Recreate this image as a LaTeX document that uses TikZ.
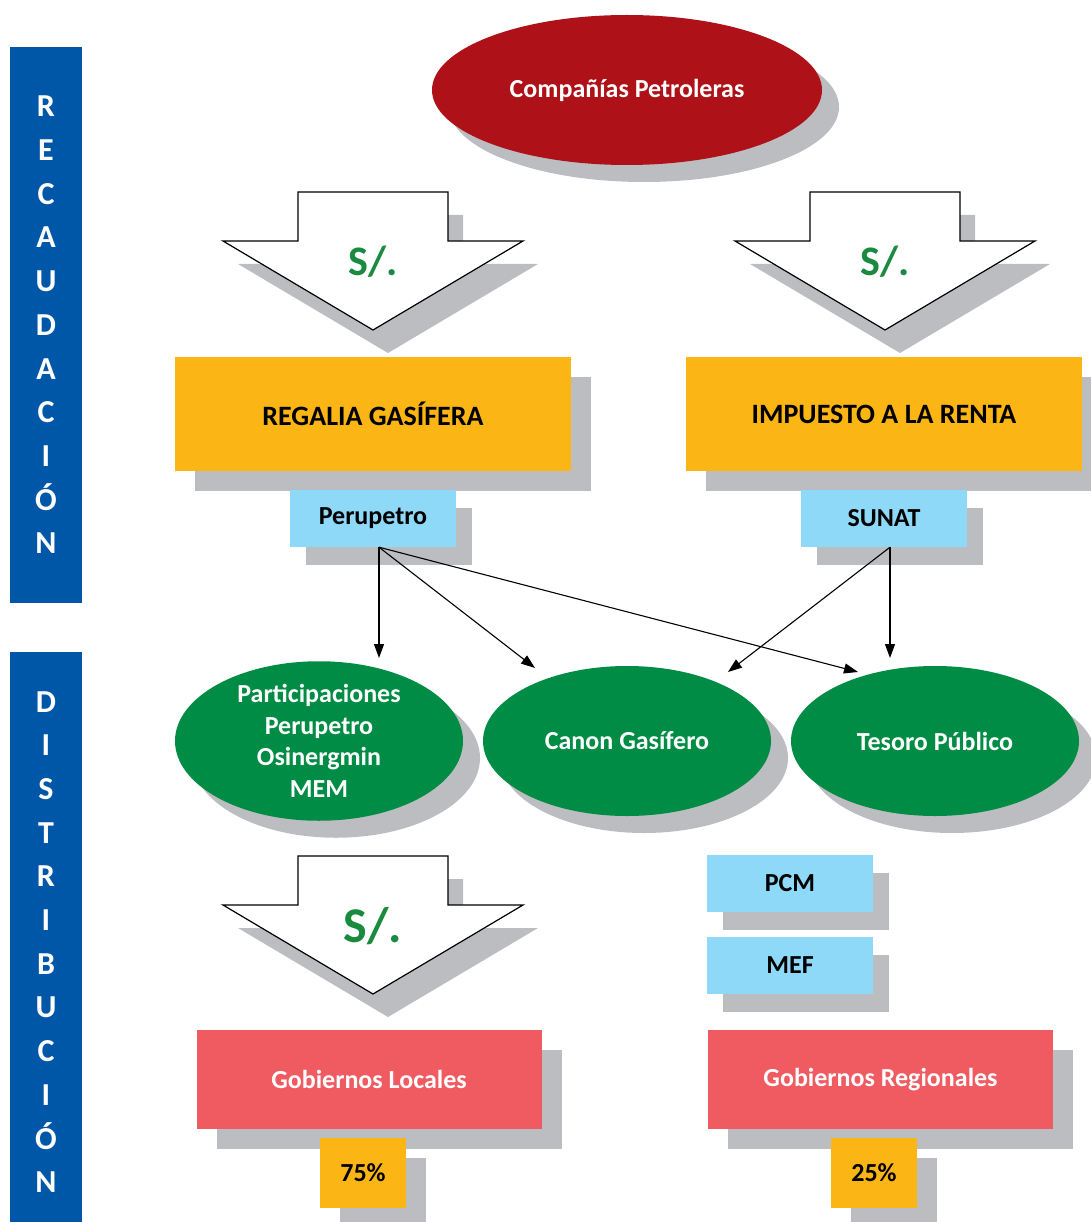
\documentclass[tikz,border=0pt]{standalone}
\usepackage{fontspec}
\setmainfont{Carlito}
\usetikzlibrary{shapes.geometric,shadows,arrows.meta}
\definecolor{barblue}{HTML}{0057A8}
\definecolor{oilred}{HTML}{AE1117}
\definecolor{boxyellow}{HTML}{FBB515}
\definecolor{skyblue}{HTML}{8ED8F8}
\definecolor{fundgreen}{HTML}{008C44}
\definecolor{govred}{HTML}{F05B62}
\definecolor{moneygreen}{HTML}{1A8A3F}
\definecolor{shadowgrey}{HTML}{BCBDC0}

\begin{document}
\begin{tikzpicture}[x=1pt, y=-1pt,
  txt/.style={font=\bfseries\fontsize{26}{31.5}\selectfont},
  bigshade/.style={drop shadow={shadow xshift=20pt, shadow yshift=-20pt, fill=shadowgrey, opacity=1}},
  smallshade/.style={drop shadow={shadow xshift=16pt, shadow yshift=-18pt, fill=shadowgrey, opacity=1}},
  bar/.style={fill=barblue, text=white, minimum width=72pt, inner sep=0pt, align=center,
    font=\bfseries\fontsize{32}{43.7}\selectfont},
  oval/.style={ellipse, txt, text=white, inner sep=0pt, align=center,
    drop shadow={shadow xshift=17pt, shadow yshift=-17pt, fill=shadowgrey, opacity=1}},
  head/.style={rectangle, bigshade, fill=boxyellow, minimum width=396pt, minimum height=114pt,
    font=\bfseries\fontsize{28}{33}\selectfont},
  agency/.style={rectangle, smallshade, fill=skyblue, minimum width=166pt, minimum height=57pt, txt},
  gov/.style={rectangle, bigshade, fill=govred, text=white, minimum width=345pt, minimum height=99pt, txt},
  share/.style={rectangle, bigshade, fill=boxyellow, minimum width=86pt, minimum height=70pt, txt},
  flow/.style={-{Triangle[length=14pt,width=10pt]}, line width=1.1pt}
]
  \useasboundingbox (0,0) rectangle (1090,1222);

  \node[bar, minimum height=556pt] (rec) at (46,325)
    {R\\E\\C\\A\\U\\D\\A\\C\\I\\Ó\\N};
  \node[bar, minimum height=580pt] (dis) at (46,942)
    {D\\I\\S\\T\\R\\I\\B\\U\\C\\I\\Ó\\N};

  \node[oval, fill=oilred, minimum width=390pt, minimum height=150pt] (cias) at (627,90)
    {Compañías Petroleras};

  \foreach \cx/\ty/\sz/\nm in {373/192/42/soles1, 885/192/42/soles2, 373/856/50/soles3} {
    \fill[shadowgrey, shift={(15,23)}]
      (\cx-75,\ty) -- (\cx+75,\ty) -- (\cx+75,\ty+49) -- (\cx+150,\ty+49)
      -- (\cx,\ty+138) -- (\cx-150,\ty+49) -- (\cx-75,\ty+49) -- cycle;
    \draw[fill=white, line width=1.2pt]
      (\cx-75,\ty) -- (\cx+75,\ty) -- (\cx+75,\ty+49) -- (\cx+150,\ty+49)
      -- (\cx,\ty+138) -- (\cx-150,\ty+49) -- (\cx-75,\ty+49) -- cycle;
    \node[text=moneygreen, font=\bfseries\fontsize{\sz}{\sz}\selectfont] (\nm) at (\cx,\ty+70) {S/.};
  }

  \node[head] (regalia) at (373,414) {REGALIA GASÍFERA};
  \node[head] (renta)   at (884,414) {IMPUESTO A LA RENTA};

  \node[agency] (perupetro) at (373,518.5) {Perupetro};
  \node[agency] (sunat)     at (884,518.5) {SUNAT};

  \node[oval, fill=fundgreen, minimum width=288pt, minimum height=150pt] (partic) at (319,741)
    {Participaciones\\Perupetro\\Osinergmin\\MEM};
  \node[oval, fill=fundgreen, minimum width=288pt, minimum height=150pt] (canon) at (627,741)
    {Canon Gasífero};
  \node[oval, fill=fundgreen, minimum width=288pt, minimum height=150pt] (tesoro) at (935,741)
    {Tesoro Público};

  \coordinate (toPartic)  at (379,658);
  \coordinate (toCanonA)  at (535,668);
  \coordinate (toTesoroA) at (858,672);
  \coordinate (toCanonB)  at (728,672);
  \coordinate (toTesoroB) at (890,658);

  \draw[flow] ([xshift=6pt]perupetro.south) -- (toPartic);
  \draw[flow] ([xshift=6pt]perupetro.south) -- (toCanonA);
  \draw[flow] ([xshift=6pt]perupetro.south) -- (toTesoroA);
  \draw[flow] ([xshift=6pt]sunat.south) -- (toCanonB);
  \draw[flow] ([xshift=6pt]sunat.south) -- (toTesoroB);

  \node[agency] (pcm) at (790,883.5) {PCM};
  \node[agency] (mef) at (790,965)   {MEF};

  \node[gov] (locales)    at (369,1079.5) {Gobiernos Locales};
  \node[gov] (regionales) at (880.5,1079.5) {Gobiernos Regionales};

  \node[share] (p75) at (363,1173) {75\%};
  \node[share] (p25) at (874,1173) {25\%};
\end{tikzpicture}
\end{document}
